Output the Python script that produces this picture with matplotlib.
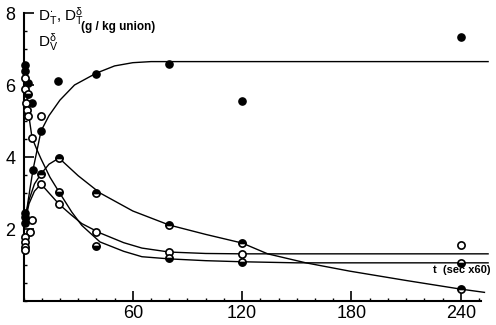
import matplotlib
matplotlib.use("Agg")
import matplotlib.pyplot as plt
from matplotlib.ticker import MultipleLocator

plt.rcParams['font.family'] = ['Liberation Sans', 'DejaVu Sans']
plt.rcParams['mathtext.fontset'] = 'custom'
plt.rcParams['mathtext.rm'] = 'Liberation Sans'
plt.rcParams['mathtext.it'] = 'Liberation Sans'

# ---- fitted curves (t in sec x60, value in g/kg) ----
curve_F_t = [0.5, 2, 3.5, 5.2, 9.6, 14, 20, 28, 40, 50, 60, 70, 255]
curve_F_v = [2.2, 2.6, 3.1, 3.64, 4.72, 5.15, 5.58, 6.0, 6.33, 6.53, 6.62, 6.65, 6.65]

curve_H_t = [0.5, 3, 6, 9.6, 14, 19.5, 30, 42, 60, 80, 100, 120, 134, 155, 179, 210, 240, 253]
curve_H_v = [2.2, 2.8, 3.25, 3.53, 3.8, 3.97, 3.48, 3.0, 2.5, 2.11, 1.85, 1.61, 1.31, 1.06, 0.83, 0.57, 0.33, 0.24]

curve_O_t = [0.5, 3, 6, 9.6, 14, 19.5, 26, 32, 42, 55, 65, 80, 100, 120, 255]
curve_O_v = [2.1, 2.7, 3.05, 3.25, 3.0, 2.69, 2.4, 2.15, 1.89, 1.62, 1.47, 1.36, 1.32, 1.31, 1.31]

curve_S_t = [0.5, 2.5, 4.7, 7.4, 9.6, 14.5, 19.5, 26.5, 32, 42, 55, 65, 80, 100, 120, 150, 255]
curve_S_v = [6.6, 5.3, 4.53, 4.2, 3.95, 3.44, 3.03, 2.47, 2.1, 1.64, 1.38, 1.23, 1.17, 1.12, 1.09, 1.06, 1.06]

# ---- measured points ----
filled_t = [0.6, 0.6, 2.5, 4.7, 5.2, 9.6, 19, 40, 80, 120, 240, 0.8, 0.6, 1.0]
filled_v = [6.55, 6.4, 6.05, 5.5, 3.64, 4.72, 6.1, 6.3, 6.58, 5.55, 7.33, 2.44, 2.33, 2.17]

open_t = [0.6, 0.6, 1.5, 2.0, 2.5, 4.7, 9.6, 9.6, 19.5, 40, 80, 120, 240, 4.7, 3.5, 0.8, 0.8, 0.8, 0.8]
open_v = [6.2, 5.9, 5.5, 5.3, 5.15, 4.53, 5.14, 3.25, 2.69, 1.92, 1.36, 1.31, 1.56, 2.25, 1.92, 1.78, 1.64, 1.5, 1.42]

halftop_t = [9.6, 19.5, 40, 80, 120, 240]
halftop_v = [3.53, 3.97, 3.0, 2.11, 1.61, 0.33]

halfbot_t = [2.5, 19.5, 40, 80, 120, 240]
halfbot_v = [5.75, 3.03, 1.53, 1.19, 1.08, 1.06]

x_ticks = [60, 120, 180, 240]
y_ticks = [2, 4, 6, 8]

fig = plt.figure(figsize=(4.96, 3.25), dpi=100)
ax = fig.add_axes([23.5 / 496, 24 / 325, 464.6 / 496, 288 / 325])
ax.set_xlim(0, 255)
ax.set_ylim(0, 8)

lw = 1.0
for t, v in [(curve_F_t, curve_F_v), (curve_H_t, curve_H_v),
             (curve_O_t, curve_O_v), (curve_S_t, curve_S_v)]:
    ax.plot(t, v, color='black', lw=lw, zorder=2, clip_on=False)

ms = 5.2
ax.plot(filled_t, filled_v, 'o', ms=ms, color='black', mec='black', zorder=3, clip_on=False)
ax.plot(open_t, open_v, 'o', ms=ms, mfc='white', mec='black', mew=1.2, zorder=3, clip_on=False)
ax.plot(halftop_t, halftop_v, 'o', ms=ms, fillstyle='top', color='black', mfcalt='white',
        mec='black', mew=1.2, zorder=3, clip_on=False)
ax.plot(halfbot_t, halfbot_v, 'o', ms=ms, fillstyle='bottom', color='black', mfcalt='white',
        mec='black', mew=1.2, zorder=3, clip_on=False)

for s in ['top', 'right']:
    ax.spines[s].set_visible(False)
ax.spines['left'].set_linewidth(1.5)
ax.spines['bottom'].set_linewidth(1.5)
ax.spines['bottom'].set_bounds(0, 251)

ax.set_xticks(x_ticks)
ax.set_yticks(y_ticks)
ax.xaxis.set_minor_locator(MultipleLocator(10))
ax.yaxis.set_minor_locator(MultipleLocator(0.5))
ax.tick_params(axis='both', which='major', direction='in', length=7, width=1.2,
               labelsize=13, color='black')
ax.tick_params(axis='both', which='minor', direction='in', length=2.5, width=1.0)
ax.tick_params(axis='x', which='major', pad=3)
ax.tick_params(axis='y', which='major', pad=6)

legend_label = (r'$\mathrm{D}_{T}^{\bullet}\mathrm{,}\ \mathrm{D}_{T}^{\delta}$' + '\n'
                + r'$\mathrm{D}_{V}^{\delta}$')
ax.text(8, 7.55, legend_label, fontsize=11, ha='left', va='center', linespacing=1.25)
ax.text(31.5, 7.6, '(g / kg union)', fontsize=8.5, ha='left', va='center', fontweight='bold')
ax.text(225, 0.86, 't  (sec x60)', fontsize=8, ha='left', va='center', fontweight='bold')

fig.savefig('out.png', dpi=100)
